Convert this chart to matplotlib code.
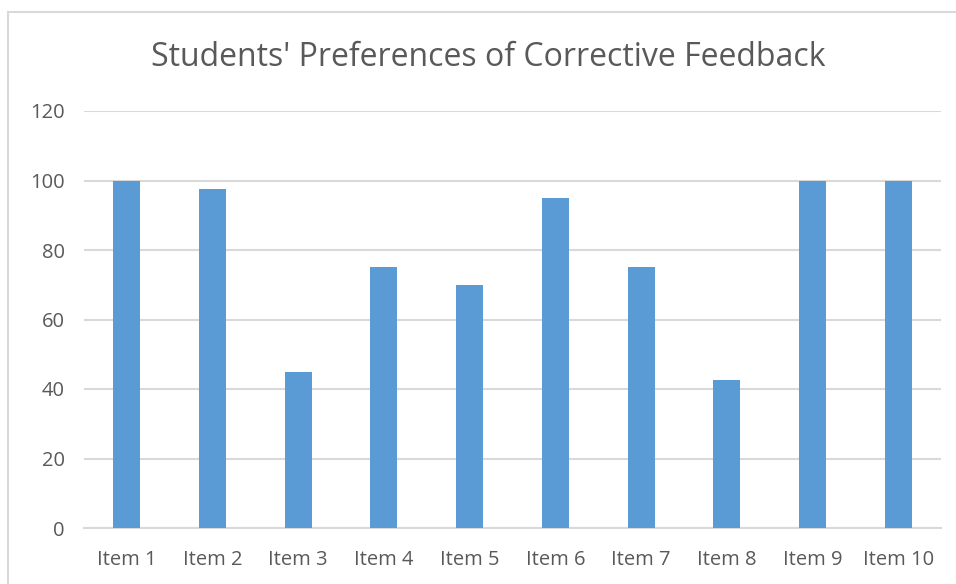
import matplotlib
matplotlib.use("Agg")
import matplotlib.pyplot as plt
from matplotlib.patches import Rectangle

categories = ["Item 1", "Item 2", "Item 3", "Item 4", "Item 5",
              "Item 6", "Item 7", "Item 8", "Item 9", "Item 10"]
values = [100, 97.5, 45, 75, 70, 95, 75, 42.5, 100, 100]
yticks = [0, 20, 40, 60, 80, 100, 120]

W, H = 956, 584
fig = plt.figure(figsize=(W / 100, H / 100), dpi=100)
plt.rcParams['font.family'] = ['Open Sans', 'DejaVu Sans']

# chart border (partially cropped in the reference)
fig.patches.append(Rectangle((8 / W, -0.1), 1.2, (H - 12) / H + 0.1,
                             transform=fig.transFigure, fill=False,
                             edgecolor='#D9D9D9', linewidth=1.5))

left, right, bottom, top = 84, 941, 528, 111
ax = fig.add_axes([left / W, 1 - bottom / H, (right - left) / W, (bottom - top) / H])

x = list(range(len(categories)))
ax.bar(x, values, width=0.315, color='#5B9BD5', zorder=3)
ax.set_xlim(-0.5, len(categories) - 0.5)
ax.set_ylim(0, 120)
ax.set_yticks(yticks)
ax.set_xticks(x)
ax.set_xticklabels(categories)
ax.grid(axis='y', color='#D9D9D9', linewidth=1.5, zorder=0)
for s in ['top', 'right', 'left']:
    ax.spines[s].set_visible(False)
ax.spines['bottom'].set_color('#D9D9D9')
ax.spines['bottom'].set_linewidth(1.5)
ax.tick_params(axis='both', length=0, colors='#595959', labelsize=14.5)
ax.tick_params(axis='x', pad=16)
ax.tick_params(axis='y', pad=14)

fig.text(488 / W, 1 - 58 / H, "Students' Preferences of Corrective Feedback",
         ha='center', va='center', fontsize=23, color='#595959')

fig.savefig("out.png", dpi=100)
